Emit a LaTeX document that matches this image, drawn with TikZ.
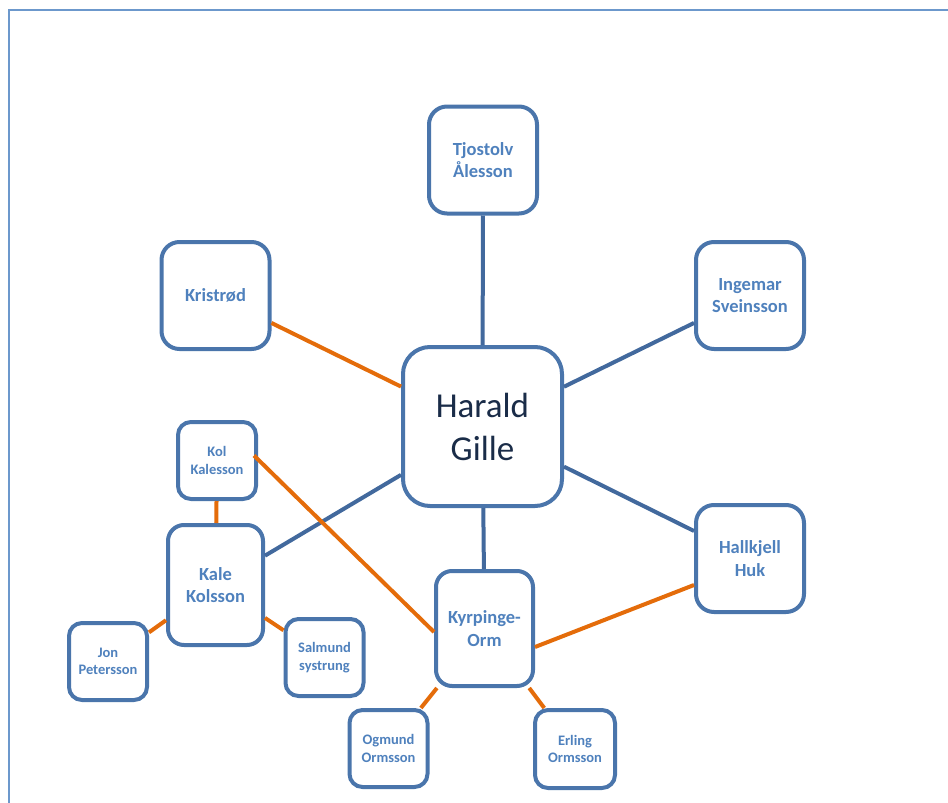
\documentclass[tikz,border=0pt]{standalone}
\usepackage{fontspec}
\setmainfont{Carlito}
\usetikzlibrary{calc}
\definecolor{boxblue}{HTML}{4A75AB}
\definecolor{lineblue}{HTML}{42699D}
\definecolor{orangeline}{HTML}{E46C0A}
\definecolor{txtblue}{HTML}{4F81BD}
\definecolor{darknavy}{HTML}{1A2C48}
\definecolor{framecol}{HTML}{6C98CC}
\tikzset{
  box/.style={draw=boxblue, line width=4pt, fill=white, inner sep=0pt, align=center, text=txtblue},
  bigbox/.style={box, minimum width=108pt, minimum height=107pt, rounded corners=18pt, font=\bfseries\fontsize{18.5}{22.5}\selectfont},
  smallbox/.style={box, minimum width=78pt, minimum height=77pt, rounded corners=13pt, font=\bfseries\fontsize{14.5}{17.5}\selectfont},
  midbox/.style={box, rounded corners=16pt, font=\bfseries\fontsize{18.5}{22.5}\selectfont},
  blink/.style={draw=lineblue, line width=4pt},
  olink/.style={draw=orangeline, line width=4pt},
}
\begin{document}
\begin{tikzpicture}[x=1pt,y=-1pt]
\useasboundingbox (0,0) rectangle (948,803);
\draw[framecol, line width=2pt] (9,810) -- (9,10) -- (960,10);

\node[box, minimum width=159pt, minimum height=159pt, rounded corners=27pt, text=darknavy, font=\fontsize{35}{43}\selectfont] (hg) at (482.5,426.5) {Harald\\Gille};
\node[bigbox] (tj) at (483,160) {Tjostolv\\Ålesson};
\node[bigbox] (kr) at (215.5,295.5) {Kristrød};
\node[bigbox] (in) at (750,295.5) {Ingemar\\Sveinsson};
\node[bigbox] (hk) at (750,558.5) {Hallkjell\\Huk};
\node[smallbox] (kol) at (217,460.5) {Kol\\Kalesson};
\node[midbox, minimum width=95pt, minimum height=120pt] (kk) at (215.5,585) {Kale\\Kolsson};
\node[midbox, minimum width=97pt, minimum height=115pt] (ko) at (484.5,628.5) {Kyrpinge-\\Orm};
\node[smallbox] (jp) at (108,661.5) {Jon\\Petersson};
\node[smallbox] (ss) at (324.5,657.5) {Salmund\\systrung};
\node[smallbox] (om) at (388.5,748.5) {Ogmund\\Ormsson};
\node[smallbox, minimum width=80pt, minimum height=78pt] (eo) at (575,749) {Erling\\Ormsson};

\draw[blink] (tj) -- (hg);
\draw[blink] (in) -- (hg);
\draw[blink] (hg) -- (hk);
\draw[blink] (hg) -- (kk);
\draw[blink] (hg) -- (ko);
\draw[olink] (kr) -- (hg);
\draw[olink] (kol) -- (kk);
\draw[olink] ($(kol.east)+(-4,-5)$) -- ($(ko.west)+(0,3.5)$);
\draw[olink] ($(hk.west)+(0,26.5)$) -- ($(ko.east)+(0,18.5)$);
\draw[olink] (kk) -- (jp);
\draw[olink] (kk) -- (ss);
\draw[olink] (ko) -- (om);
\draw[olink] (ko) -- (eo);
\end{tikzpicture}
\end{document}
